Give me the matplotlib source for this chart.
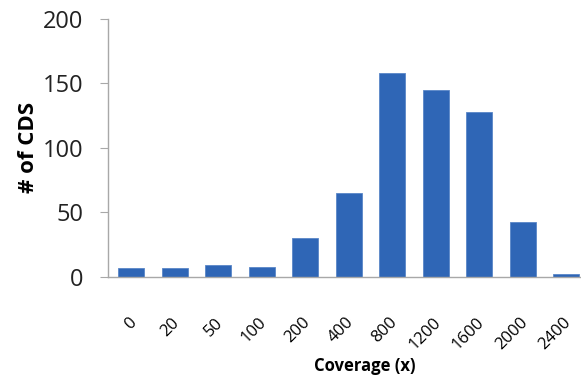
import matplotlib
matplotlib.use('Agg')
import matplotlib.pyplot as plt
import matplotlib.transforms as mtransforms
import numpy as np

coverage = ['0', '20', '50', '100', '200', '400', '800', '1200', '1600', '2000', '2400']
n_cds = [7, 7, 9, 8, 30, 65, 158, 145, 128, 43, 2]

plt.rcParams['font.family'] = ['Open Sans', 'DejaVu Sans']

fig = plt.figure(figsize=(5.81, 3.85), dpi=100)
ax = fig.add_axes([0.186, 0.2805, 0.828, 0.6705])

x = np.arange(len(coverage))
ax.bar(x, n_cds, width=0.6, color='#2f66b6', edgecolor='#5a86c8', linewidth=0.6)

ax.set_xlim(-0.53, 10.53)
ax.set_ylim(0, 200)
ax.set_yticks([0, 50, 100, 150, 200])
ax.set_xticks(x)
ax.set_xticklabels(coverage, rotation=45, ha='right', rotation_mode='anchor', fontsize=12)
ax.tick_params(axis='x', length=0, pad=27)
ax.tick_params(axis='y', length=6, color='#a8a8a8', labelsize=17, pad=12, labelcolor='#222222')
shift = mtransforms.ScaledTranslation(-3 / 100, 0, fig.dpi_scale_trans)
for lbl in ax.get_xticklabels():
    lbl.set_transform(lbl.get_transform() + shift)

for s in ['top', 'right']:
    ax.spines[s].set_visible(False)
for s in ['left', 'bottom']:
    ax.spines[s].set_color('#a8a8a8')
    ax.spines[s].set_linewidth(1)

ax.set_ylabel('# of CDS', fontsize=16, fontweight='bold')
ax.yaxis.set_label_coords(-0.143, 0.5)
ax.set_xlabel('Coverage (x)', fontsize=12, fontweight='bold')
ax.xaxis.set_label_coords(0.534, -0.31)

fig.savefig('out.png', dpi=100)
